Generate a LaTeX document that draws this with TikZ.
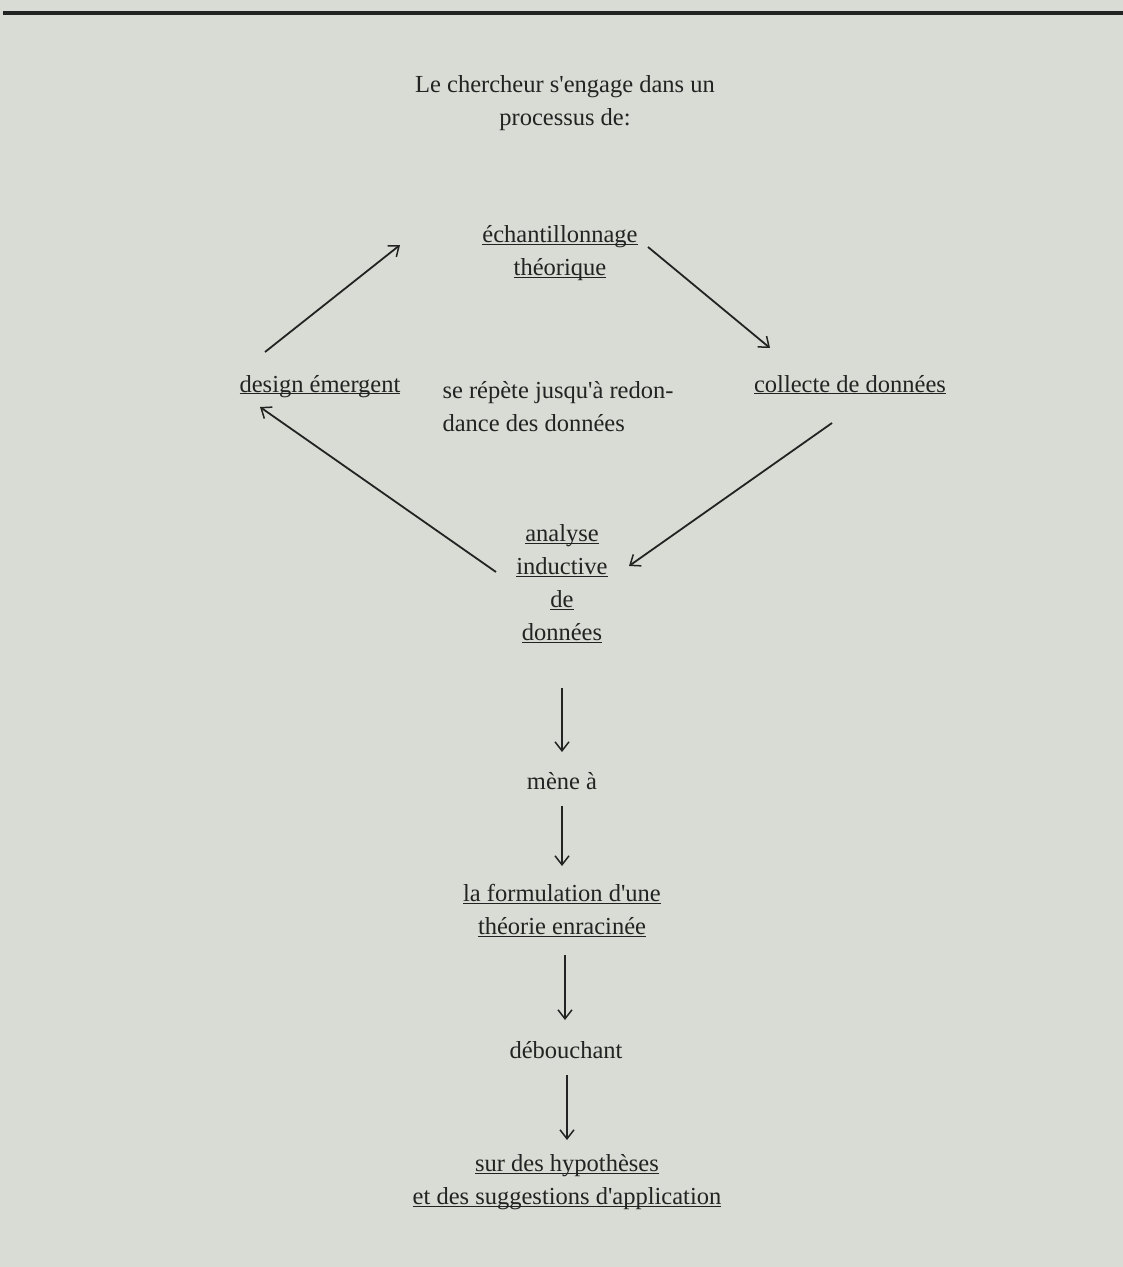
\documentclass[tikz,border=0pt]{standalone}
\usepackage{fontspec}
\setmainfont{Liberation Serif}
\usetikzlibrary{arrows.meta,calc}
\definecolor{paper}{RGB}{217,220,212}
\definecolor{ink}{RGB}{35,35,35}
\newcommand\ulx[1]{\underline{\smash{#1}}}
\newcommand\ap{\textquotesingle}
\begin{document}
\begin{tikzpicture}[x=1pt,y=-1pt,
  txt/.style={inner sep=0pt,text=ink,font=\fontsize{24.5}{33}\selectfont,align=center},
  arr/.style={draw=ink,line width=1.8pt,-{Straight Barb[length=9pt,width=14pt,line width=1.5pt]}}]
\fill[paper] (0,0) rectangle (1123,1267);
\useasboundingbox (0,0) rectangle (1123,1267);
\draw[ink,line width=3.5pt] (3,13) -- (1123,13);

\node[txt] (title) at (565,103) {Le chercheur s\ap engage dans un\\processus de:};
\node[txt] (ech) at (560,260) {\ulx{échantillonnage}\\\ulx{théorique}};
\node[txt] (design) at (320,393) {\ulx{design émergent}};
\node[txt,align=left] (rep) at (558,407) {se répète jusqu\ap à redon-\\dance des données};
\node[txt] (coll) at (850,393) {\ulx{collecte de données}};
\node[txt] (ana) at (562,592) {\ulx{analyse}\\\ulx{inductive}\\\ulx{de}\\\ulx{données}};
\node[txt] (mene) at (562,781) {mène à};
\node[txt] (form) at (562,919) {\ulx{la formulation d\ap une}\\\ulx{théorie enracinée}};
\node[txt] (deb) at (566,1050) {débouchant};
\node[txt] (hyp) at (567,1189) {\ulx{sur des hypothèses}\\\ulx{et des suggestions d\ap application}};

\draw[arr] ($(design)+(-55,-41)$) -- ($(ech)+(-160,-15)$);
\draw[arr] ($(ech)+(88,-13)$) -- ($(coll)+(-80,-45)$);
\draw[arr] ($(coll)+(-18,30)$) -- ($(ana)+(67,-26)$);
\draw[arr] ($(ana)+(-66,-20)$) -- ($(design)+(-60,14)$);
\draw[arr] ($(ana)+(0,96)$) -- ($(mene)+(0,-29)$);
\draw[arr] ($(mene)+(0,25)$) -- ($(form)+(0,-53)$);
\draw[arr] ($(form)+(3,36)$) -- ($(deb)+(-1,-30)$);
\draw[arr] ($(deb)+(1,25)$) -- ($(hyp)+(0,-49)$);
\end{tikzpicture}
\end{document}
